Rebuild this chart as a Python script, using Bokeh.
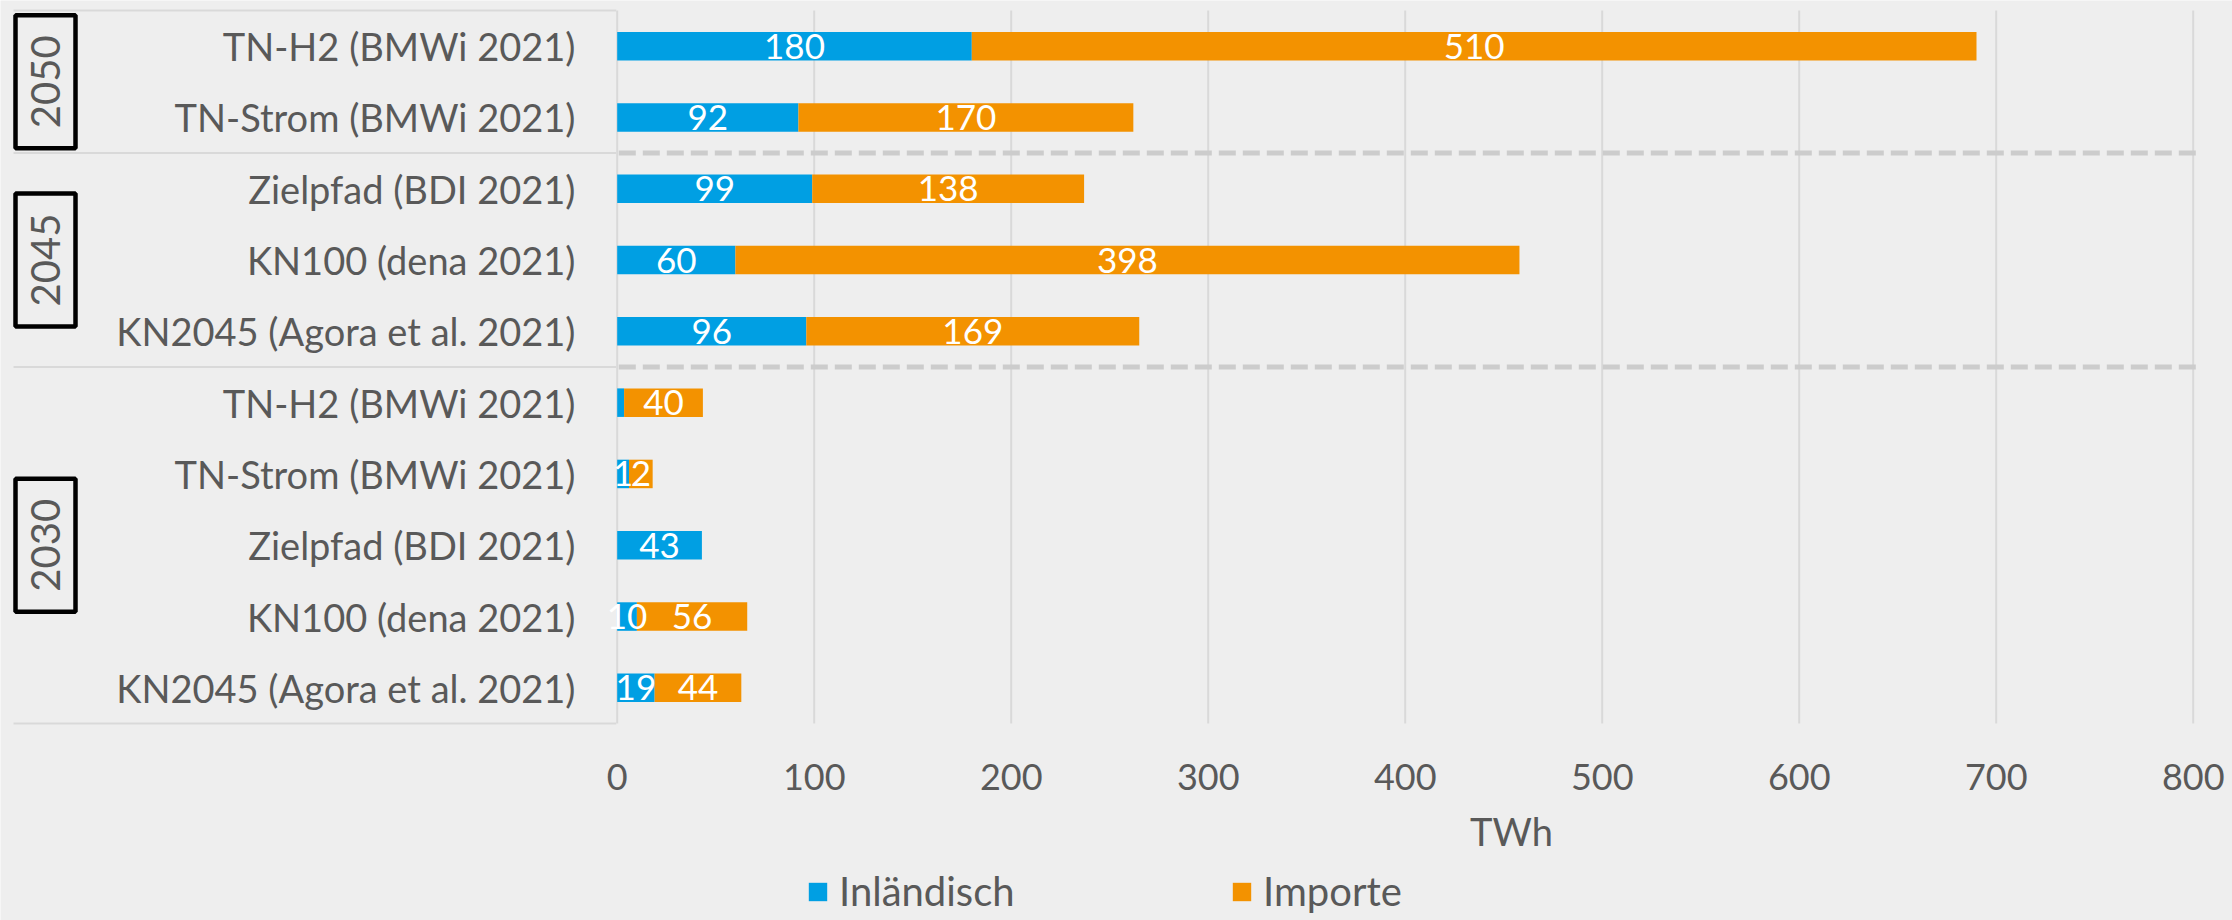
import math
from bokeh.plotting import figure
from bokeh.models import Range1d, FixedTicker, ColumnDataSource, Label
from bokeh.core.properties import value
from bokeh.embed import file_html
from bokeh.resources import INLINE

# ---------------- data ----------------
categories = [
    "TN-H2 (BMWi 2021)", "TN-Strom (BMWi 2021)",
    "Zielpfad (BDI 2021)", "KN100 (dena 2021)", "KN2045 (Agora et al. 2021)",
    "TN-H2 (BMWi 2021)", "TN-Strom (BMWi 2021)", "Zielpfad (BDI 2021)",
    "KN100 (dena 2021)", "KN2045 (Agora et al. 2021)",
]
category_year = ["2050", "2050", "2045", "2045", "2045",
                 "2030", "2030", "2030", "2030", "2030"]
years = ["2050", "2045", "2030"]
inlaendisch = [180, 92, 99, 60, 96, 3.5, 6, 43, 10, 19]
importe = [510, 170, 138, 398, 169, 40, 12, 0, 56, 44]
inlaendisch_labels = ["180", "92", "99", "60", "96", "", "1", "43", "10", "19"]
importe_labels = ["510", "170", "138", "398", "169", "40", "2", "", "56", "44"]
x_ticks = [0, 100, 200, 300, 400, 500, 600, 700, 800]
series_names = ["Inländisch", "Importe"]
x_title = "TWh"

# ---------------- style ----------------
BLUE = "#009FE3"
ORANGE = "#F39200"
BG = "#EEEEEE"
TXT = "#595959"
GRID = "#D9D9D9"
FONT = "Lato"

W, H = 2232, 920
PX_PER_X = 1.97          # pixels per TWh
ROW_PX = 71.3            # pixels per category row
X0_PX = 616.7            # canvas x of value 0
TOP_PX = 10.0            # canvas y of top of first row

n = len(categories)
x_start = -X0_PX / PX_PER_X
x_end = (W - X0_PX) / PX_PER_X
y_end = n + TOP_PX / ROW_PX
y_start = n - (H - TOP_PX) / ROW_PX

ypos = [n - i - 0.5 for i in range(n)]
inl_mid = [v / 2 for v in inlaendisch]
imp_mid = [a + b / 2 for a, b in zip(inlaendisch, importe)]

src = ColumnDataSource(dict(
    y=ypos, cat=categories, inl=inlaendisch, imp=importe,
    inl_mid=inl_mid, imp_mid=imp_mid,
    inl_lbl=inlaendisch_labels, imp_lbl=importe_labels,
))

p = figure(width=W, height=H, output_backend="svg", toolbar_location=None,
           x_range=Range1d(x_start, x_end), y_range=Range1d(y_start, y_end),
           min_border=0, min_border_left=0, min_border_right=0,
           min_border_top=0, min_border_bottom=0)
p.background_fill_color = BG
p.border_fill_color = BG
p.outline_line_color = None
p.xgrid.visible = False
p.ygrid.visible = False
p.yaxis.visible = False

# x axis drawn inside the frame at the bottom of the category rows
p.xaxis.fixed_location = 0
p.xaxis.ticker = FixedTicker(ticks=x_ticks)
p.xaxis.axis_line_color = None
p.xaxis.major_tick_line_color = None
p.xaxis.minor_tick_line_color = None
p.xaxis.major_label_text_font = FONT
p.xaxis.major_label_text_font_size = "36px"
p.xaxis.major_label_text_color = TXT
p.xaxis.major_label_standoff = 34

# group boundaries (row units)
boundaries = [n]
for i in range(1, n):
    if category_year[i] != category_year[i - 1]:
        boundaries.append(n - i)
boundaries.append(0)
inner = boundaries[1:-1]

# vertical gridlines
p.segment(x0=x_ticks, x1=x_ticks, y0=[0] * len(x_ticks), y1=[n] * len(x_ticks),
          line_color=GRID, line_width=2)

# dashed separators between year groups
DASH_END = (2200 - X0_PX) / PX_PER_X
p.segment(x0=[0.8] * len(inner), x1=[DASH_END] * len(inner), y0=inner, y1=inner,
          line_color="#CCCCCC", line_width=5, line_dash="17 7")

# table lines on the left
TABLE_LEFT = (13 - X0_PX) / PX_PER_X
p.segment(x0=[TABLE_LEFT] * len(boundaries), x1=[-0.5] * len(boundaries),
          y0=boundaries, y1=boundaries, line_color=GRID, line_width=2)

# bars
p.hbar_stack(["inl", "imp"], y="y", height=0.4, color=[BLUE, ORANGE],
             line_color=None, source=src, legend_label=series_names)

# value labels
p.text(x="inl_mid", y="y", text="inl_lbl", source=src, text_color="white",
       text_font=value(FONT), text_font_size="35px", text_align="center",
       text_baseline="middle")
p.text(x="imp_mid", y="y", text="imp_lbl", source=src, text_color="white",
       text_font=value(FONT), text_font_size="35px", text_align="center",
       text_baseline="middle")

# category labels
LABEL_X = (575 - X0_PX) / PX_PER_X
p.text(x=LABEL_X, y="y", text="cat", source=src, text_color=TXT,
       text_font=value(FONT), text_font_size="38px", text_align="right",
       text_baseline="middle")

# year labels with boxes
year_centers = []
for yr in years:
    idx = [i for i, c in enumerate(category_year) if c == yr]
    top = n - idx[0]
    bot = n - idx[-1] - 1
    year_centers.append((top + bot) / 2)
YEAR_X = (45 - X0_PX) / PX_PER_X
ysrc = ColumnDataSource(dict(x=[YEAR_X] * len(years), y=year_centers, t=years))
p.rect(x="x", y="y", width=60, height=133, width_units="screen",
       height_units="screen", fill_color=None, line_color="black",
       line_width=4.5, source=ysrc)
p.text(x="x", y="y", text="t", source=ysrc, angle=math.pi / 2,
       text_color=TXT, text_font=value(FONT), text_font_size="40px",
       text_align="center", text_baseline="middle")

# axis title
TWH_X = (1511 - X0_PX) / PX_PER_X
TWH_Y = n - (830 - TOP_PX) / ROW_PX
p.add_layout(Label(x=TWH_X, y=TWH_Y, text=x_title, text_align="center",
                   text_baseline="middle", text_font=FONT,
                   text_font_size="38px", text_color=TXT))

# legend
lg = p.legend[0]
lg.orientation = "horizontal"
lg.location = (806, 5)
lg.padding = 0
lg.margin = 0
lg.spacing = 0
lg.border_line_color = None
lg.background_fill_alpha = 0
lg.glyph_width = 23
lg.glyph_height = 23
lg.label_standoff = 10
lg.label_width = 391
lg.label_text_font = FONT
lg.label_text_font_size = "40px"
lg.label_text_color = TXT

open("out.html", "w").write(file_html(p, INLINE))
